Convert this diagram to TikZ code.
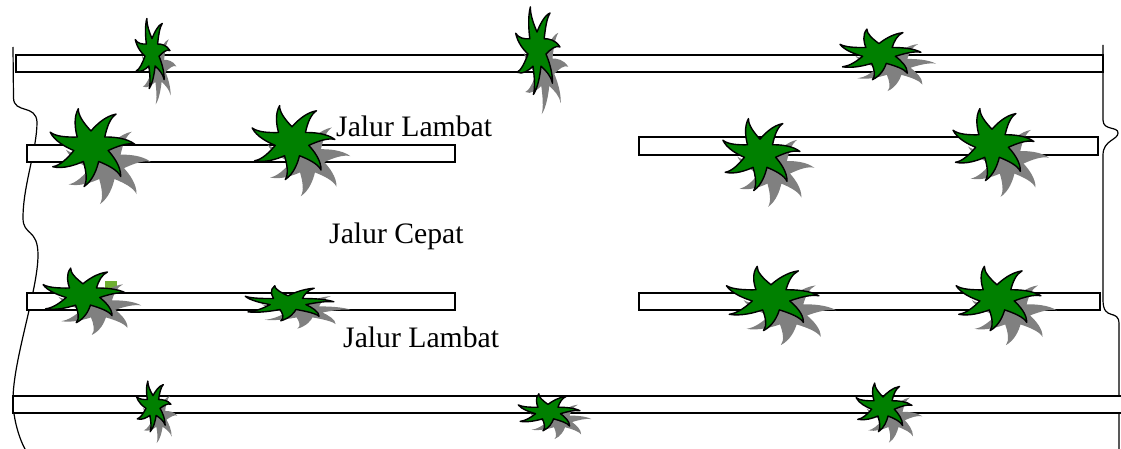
\documentclass[tikz,border=0pt]{standalone}
\usepackage{fontspec}
\setmainfont{Liberation Serif}
\definecolor{leaf}{RGB}{0,128,0}
\definecolor{leafshadow}{RGB}{128,128,128}
\definecolor{budgreen}{RGB}{110,175,50}

% outline of a seven-armed palm crown, curled tips on the unit circle
\newcommand\crownpath{(64.29:0.4)
  \foreach \k in {0,...,6}{
    .. controls ({90+\k*51.4286-14}:0.56) and ({90+\k*51.4286-3}:0.84) .. ({90+\k*51.4286+9}:1)
    .. controls ({90+\k*51.4286+5}:0.84) and ({90+\k*51.4286+11}:0.6) .. ({90+\k*51.4286+25.714}:0.4)
  } -- cycle}

\tikzset{
  lane/.style={draw=black, fill=white, line width=1.3pt},
  edgeline/.style={draw=black, line width=1.2pt},
  lanelabel/.style={anchor=base west, inner sep=0pt, font=\fontsize{29.7}{35}\selectfont},
  plant/.pic={
    \fill[leafshadow, shift={(0.36,0.44)}] \crownpath;
    \filldraw[fill=leaf, draw=black, line width=1.4pt, line join=round] \crownpath;
  }
}

\begin{document}
\begin{tikzpicture}[x=1pt, y=-1pt]
\useasboundingbox (0,0) rectangle (1121,449);

% road edges
\draw[edgeline] (13,47) -- (13.5,98) .. controls (14,114) and (36,104) .. (37,122)
  .. controls (37,150) and (23,185) .. (23,218)
  .. controls (23,236) and (38,228) .. (38,255)
  .. controls (38,290) and (13,360) .. (13,400)
  .. controls (13,420) and (20,440) .. (25,449);
\draw[edgeline] (1103,45) -- (1103,120) .. controls (1103,131) and (1118,126) .. (1118,133)
  .. controls (1118,140) and (1103,140) .. (1103,155) -- (1103,300)
  .. controls (1103,322) and (1119,308) .. (1119,324) -- (1119,449);

% median strips
\draw[lane] (16,55) rectangle (1103,72);
\draw[lane] (27,145) rectangle (455,162);
\draw[lane] (639,137) rectangle (1098,155);
\draw[lane] (27,293) rectangle (455,310);
\draw[lane] (639,293) rectangle (1100,310);
\draw[lane] (13,396) rectangle (1125,413);

% trees
\pic[xscale=18, yscale=36] at (152,53) {plant};
\pic[xscale=23, yscale=45] at (537,50) {plant};
\pic[xscale=42, yscale=26] at (879,54) {plant};
\pic[xscale=44, yscale=40] at (91,147) {plant};
\pic[xscale=43, yscale=38] at (292,142) {plant};
\pic[xscale=40, yscale=37] at (760,154) {plant};
\pic[xscale=42, yscale=37] at (992,144) {plant};
\fill[budgreen] (105,281) rectangle (117,289);
\pic[xscale=43, yscale=28] at (83,295) {plant};
\pic[xscale=46, yscale=18] at (288,303) {plant};
\pic[xscale=48, yscale=33] at (771,298) {plant};
\pic[xscale=44, yscale=33] at (997,298) {plant};
\pic[xscale=18, yscale=26] at (153,406) {plant};
\pic[xscale=32, yscale=19] at (548,412) {plant};
\pic[xscale=29, yscale=25] at (883,407) {plant};

% lane labels
\node[lanelabel] (slowtop) at (336,137) {Jalur Lambat};
\node[lanelabel] (fast) at (329,243) {Jalur Cepat};
\node[lanelabel] (slowbottom) at (343,347) {Jalur Lambat};
\end{tikzpicture}
\end{document}
